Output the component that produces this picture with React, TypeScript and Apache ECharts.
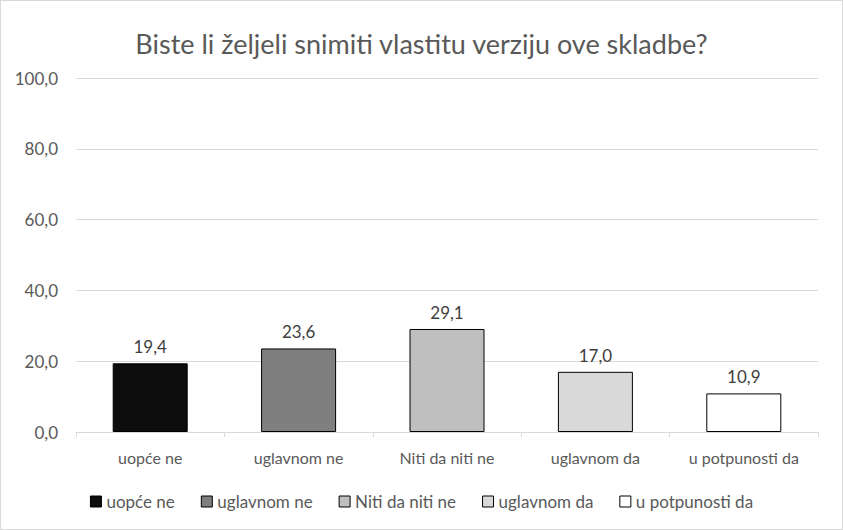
import React, { useEffect, useRef } from "react";
import * as echarts from "echarts";

const categories = ["uopće ne", "uglavnom ne", "Niti da niti ne", "uglavnom da", "u potpunosti da"];
const values = [19.4, 23.6, 29.1, 17.0, 10.9];
const colors = ["#0d0d0d", "#7f7f7f", "#bfbfbf", "#d9d9d9", "#ffffff"];
const titleText = "Biste li željeli snimiti vlastitu verziju ove skladbe?";

const FONT = "Lato, sans-serif";

export default function App() {
  const ref = useRef<HTMLDivElement>(null);
  useEffect(() => {
    document.body.style.margin = "0";
    const chart = echarts.init(ref.current!, null, { renderer: "svg" });
    const series = categories.map((name, i) => ({
      name,
      type: "bar",
      stack: "all",
      barWidth: 75,
      data: categories.map((_, j) => (j === i ? values[i] : "-")),
      itemStyle: { color: colors[i], borderColor: "#000000", borderWidth: 1 },
      label: {
        show: true,
        position: "top",
        distance: 8,
        color: "#404040",
        fontSize: 17,
        fontFamily: FONT,
        formatter: (p: any) => p.value.toFixed(1).replace(".", ","),
      },
    }));
    chart.setOption({
      animation: false,
      textStyle: { fontFamily: FONT },
      title: {
        text: titleText,
        left: "center",
        top: 24,
        textStyle: { color: "#595959", fontSize: 27, fontWeight: "normal", fontFamily: FONT },
      },
      legend: {
        top: 487,
        left: "center",
        itemWidth: 11,
        itemHeight: 11,
        itemGap: 26,
        textStyle: { color: "#595959", fontSize: 17, fontFamily: FONT },
        data: categories.map((name, i) => ({
          name,
          icon: "rect",
          itemStyle: { color: colors[i], borderColor: "#000000", borderWidth: 1 },
        })),
      },
      grid: { left: 75, right: 24, top: 77, bottom: 97, containLabel: false },
      xAxis: {
        type: "category",
        data: categories,
        axisLine: { lineStyle: { color: "#d9d9d9" } },
        axisTick: { show: true, length: 5, lineStyle: { color: "#d9d9d9" } },
        axisLabel: { color: "#595959", fontSize: 16, margin: 17, interval: 0, fontFamily: FONT },
      },
      yAxis: {
        type: "value",
        min: 0,
        max: 100,
        interval: 20,
        axisLine: { show: false },
        axisTick: { show: false },
        splitLine: { lineStyle: { color: "#d9d9d9" } },
        axisLabel: {
          color: "#595959",
          fontSize: 17,
          margin: 18,
          fontFamily: FONT,
          formatter: (v: number) => v.toFixed(1).replace(".", ","),
        },
      },
      series,
    });
    return () => chart.dispose();
  }, []);
  return (
    <div
      style={{
        position: "absolute",
        left: 0,
        top: 0,
        width: 843,
        height: 530,
        boxSizing: "border-box",
        border: "1px solid #d9d9d9",
        background: "#fff",
      }}
    >
      <div ref={ref} style={{ width: 841, height: 528 }} />
    </div>
  );
}
